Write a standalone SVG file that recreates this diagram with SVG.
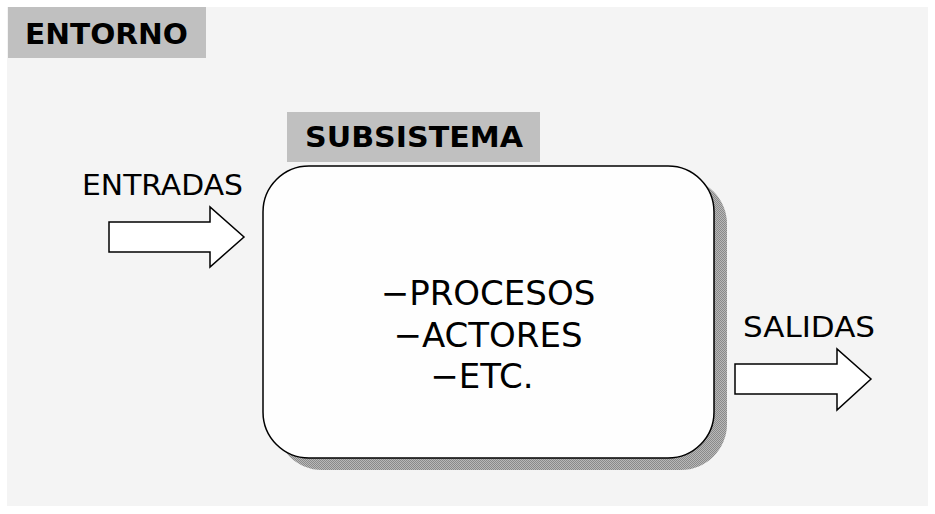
<svg xmlns="http://www.w3.org/2000/svg" width="935" height="514" viewBox="0 0 935 514">
  <defs>
    <pattern id="hatch" width="2" height="2" patternUnits="userSpaceOnUse">
      <rect width="2" height="2" fill="#b8b8b8"/>
      <rect width="1" height="1" fill="#8a8a8a"/>
      <rect x="1" y="1" width="1" height="1" fill="#8a8a8a"/>
    </pattern>
  </defs>
  <style>
    .label { font-family: "DejaVu Sans", Verdana, sans-serif; fill: #000; }
    .bold { font-weight: bold; }
    .tag { fill: #c0c0c0; }
    .arrow { fill: #fff; stroke: #000; stroke-width: 1.5; stroke-linejoin: miter; }
  </style>
  <rect x="0" y="0" width="935" height="514" fill="#ffffff"/>
  <rect x="7" y="7" width="921" height="499" fill="#f4f4f4"/>

  <g id="entorno">
    <rect class="tag" x="8" y="7" width="198" height="51"/>
    <text class="label bold" x="25" y="44" font-size="28" textLength="163" lengthAdjust="spacingAndGlyphs">ENTORNO</text>
  </g>

  <g id="subsistema">
    <rect x="276" y="178" width="451" height="292" rx="46" ry="46" fill="url(#hatch)"/>
    <rect x="263" y="166" width="451" height="292" rx="46" ry="46" fill="#fefefe" stroke="#000" stroke-width="1.5"/>
    <rect class="tag" x="287" y="112" width="253" height="50"/>
    <text class="label bold" x="305" y="147" font-size="28" textLength="218" lengthAdjust="spacingAndGlyphs">SUBSISTEMA</text>
    <text class="label" x="488" y="305" font-size="34" text-anchor="middle">−PROCESOS</text>
    <text class="label" x="488" y="347" font-size="34" text-anchor="middle">−ACTORES</text>
    <text class="label" x="482" y="388" font-size="34" text-anchor="middle">−ETC.</text>
  </g>

  <g id="entradas">
    <text class="label" x="82" y="195" font-size="28" textLength="161" lengthAdjust="spacingAndGlyphs">ENTRADAS</text>
  </g>

  <g id="salidas">
    <text class="label" x="743" y="337" font-size="28" textLength="132" lengthAdjust="spacingAndGlyphs">SALIDAS</text>
  </g>

  <g id="connectors">
    <polygon class="arrow" points="109,222 210,222 210,207 244,237 210,267 210,252 109,252"/>
    <polygon class="arrow" points="735,364 837,364 837,349 871,379 837,410 837,394 735,394"/>
  </g>
</svg>
